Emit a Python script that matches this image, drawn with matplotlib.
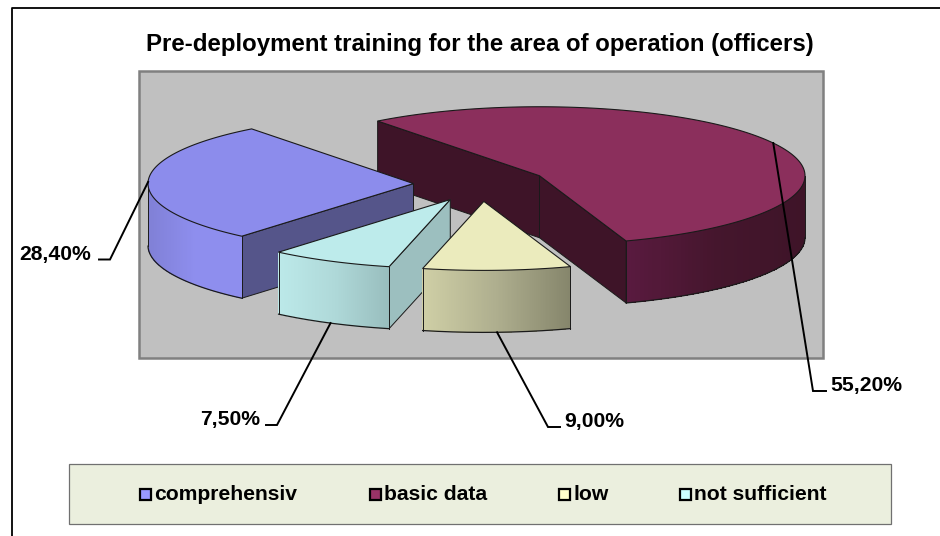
import numpy as np
import matplotlib
matplotlib.use("Agg")
import matplotlib.pyplot as plt
from matplotlib.patches import Polygon, Rectangle
from matplotlib.colors import to_rgb

# ---- data ----
title = "Pre-deployment training for the area of operation (officers)"
categories = ["comprehensiv", "basic data", "low", "not sufficient"]
values = [28.40, 55.20, 9.00, 7.50]
value_labels = ["28,40%", "55,20%", "9,00%", "7,50%"]

# ---- style ----
top_colors = ["#8C8CEC", "#8B2F5C", "#EBEBBD", "#BDEBEB"]
radial_colors = ["#55558A", "#3E1428", "#A0A080", "#9CBFBF"]
curve_left = ["#8080D6", "#5A1A3F", "#CFCFA6", "#BCE9E9"]
curve_mid = ["#8E8EEE", "#45162D", "#AEAE8E", "#AFD9D9"]
curve_right = ["#8E8EEE", "#3E1428", "#85856B", "#98BDBD"]
legend_colors = ["#9999FF", "#993366", "#FFFFCC", "#CCFFFF"]
draw_order = [1, 0, 3, 2]
elbows = [(110, 259.5), (813, 391), (548, 427), (277, 425)]
elbow_ends = [(99, 259.5), (826, 391), (560, 427), (266, 425)]
label_pos = [(91, 254.5), (830, 386), (564, 421.5), (260, 419.5)]
label_ha = ["right", "left", "left", "right"]
legend_swatch_x = [139, 369, 558, 679]
legend_text_x = [154.5, 384.5, 573.5, 694.5]

START = 220.3
CX, CY = 480.5, 184.0
RX, RY = 265.5, 69.0
EXPLODE = 67.0
DEPTH = 62.0
FONT = ["Liberation Sans", "DejaVu Sans"]
FS = 15.2
TITLE_FS = 17.3
EDGE = "#1a1a1a"

fig = plt.figure(figsize=(9.4, 5.36), dpi=100, facecolor="white")
ax = fig.add_axes([0, 0, 1, 1])
ax.set_xlim(0, 940)
ax.set_ylim(536, 0)
ax.axis("off")

# outer frame
ax.plot([12, 12, 940], [536, 7.5, 7.5], color="black", lw=1.3, zorder=1)

# plot area
ax.add_patch(Rectangle((138.5, 71), 684, 287, fc="#C0C0C0", ec="#808080", lw=1.8, zorder=1))

# legend box
ax.add_patch(Rectangle((69, 464), 822, 60, fc="#EBEFDE", ec="#707070", lw=0.9, zorder=1))

ax.text(480, 44.5, title, ha="center", va="center", fontsize=TITLE_FS, fontweight="bold",
        family=FONT, color="black", zorder=5)


def pt(theta, c):
    t = np.radians(theta)
    return c[0] + RX * np.sin(t), c[1] - RY * np.cos(t)


fractions = np.array(values) / np.sum(values)
spans = 360.0 * fractions
starts = START + np.concatenate([[0], np.cumsum(spans)[:-1]])
mids = starts + spans / 2
centres = []
for m in mids:
    t = np.radians(m)
    centres.append((CX + EXPLODE * np.sin(t), CY - EXPLODE * RY / RX * np.cos(t)))


def mix(a, b, t):
    a, b = np.array(to_rgb(a)), np.array(to_rgb(b))
    return tuple(a + (b - a) * t)


z = 2.0
for i in draw_order:
    c = centres[i]
    s, e = starts[i], starts[i] + spans[i]
    # radial faces
    for ang, normal in ((s, s - 90), (e, e + 90)):
        if np.cos(np.radians(normal)) < 0:
            px, py = pt(ang, c)
            ax.add_patch(Polygon([c, (px, py), (px, py + DEPTH), (c[0], c[1] + DEPTH)],
                                 closed=True, fc=radial_colors[i], ec=EDGE, lw=0.7, zorder=z))
    # curved side: only the part facing the viewer
    ths = np.linspace(s, e, 200)
    ths = ths[(np.cos(np.radians(ths)) < 0)]
    if len(ths):
        xs, ys = pt(ths, c)
        xmin, xmax = xs.min(), xs.max()
        for j in range(len(ths) - 1):
            t = (0.5 * (xs[j] + xs[j + 1]) - xmin) / (xmax - xmin)
            col = mix(curve_left[i], curve_mid[i], t / 0.5) if t < 0.5 else mix(curve_mid[i], curve_right[i], (t - 0.5) / 0.5)
            ax.add_patch(Polygon([(xs[j], ys[j]), (xs[j + 1], ys[j + 1]),
                                  (xs[j + 1], ys[j + 1] + DEPTH), (xs[j], ys[j] + DEPTH)],
                                 closed=True, fc=col, ec="none", antialiased=False, zorder=z))
        ax.plot(xs, ys + DEPTH, color=EDGE, lw=0.9, zorder=z + 0.1)
        ax.plot([xs[0], xs[0]], [ys[0], ys[0] + DEPTH], color=EDGE, lw=0.7, zorder=z + 0.1)
        ax.plot([xs[-1], xs[-1]], [ys[-1], ys[-1] + DEPTH], color=EDGE, lw=0.7, zorder=z + 0.1)
    # top face
    ths = np.linspace(s, e, 200)
    xs, ys = pt(ths, c)
    ax.add_patch(Polygon([c] + list(zip(xs, ys)), closed=True, fc=top_colors[i], ec=EDGE,
                         lw=0.8, joinstyle="miter", zorder=z + 0.2))
    z += 1

# leader lines and value labels
for i in range(len(values)):
    c = centres[i]
    ax_, ay_ = pt(mids[i], c)
    if np.cos(np.radians(mids[i])) < -0.5:
        ay_ += DEPTH
    ax.plot([ax_, elbows[i][0], elbow_ends[i][0]], [ay_, elbows[i][1], elbow_ends[i][1]],
            color="black", lw=1.4, zorder=20, solid_joinstyle="miter")
    ax.text(label_pos[i][0], label_pos[i][1], value_labels[i], ha=label_ha[i], va="center",
            fontsize=FS, fontweight="bold", family=FONT, color="black", zorder=21)

# legend entries
for name, col, sx, tx in zip(categories, legend_colors, legend_swatch_x, legend_text_x):
    ax.add_patch(Rectangle((sx + 0.5, 488.5), 11, 11.5, fc=col, ec="black", lw=1.6, zorder=6))
    ax.text(tx, 494, name, ha="left", va="center", fontsize=FS, fontweight="bold",
            family=FONT, color="black", zorder=6)

fig.savefig("out.png", dpi=100, facecolor="white")
